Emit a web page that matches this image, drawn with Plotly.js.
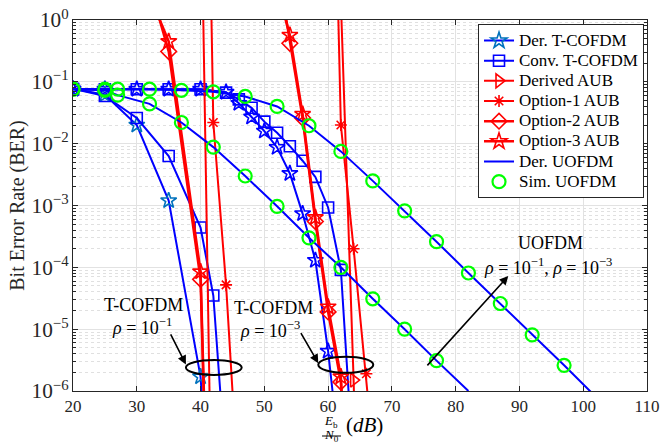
<!DOCTYPE html>
<html><head><meta charset="utf-8">
<script src="https://cdn.plot.ly/plotly-3.0.1.min.js"></script>
<style>body{margin:0;background:#fff}#chart{width:661px;height:447px}</style>
</head><body><div id="chart"></div>
<script>
// ---- data ----
const derT1_x = [20,25,30,35,40,45];
const derT1_y = [0.077,0.062,0.020,0.0012,1.7e-6,1e-14];
const derT3_x = [20,25,30,35,40,44,46,48,50,52,54,56,58,60,62];
const derT3_y = [0.076,0.076,0.076,0.076,0.076,0.068,0.045,0.027,0.016,0.0087,0.0033,0.00074,0.00013,4.4e-6,6e-8];
const convT1_x = [20,25,30,35,40,42,44];
const convT1_y = [0.077,0.059,0.026,0.0063,0.00044,3.5e-5,5e-8];
const convT3_x = [20,25,30,35,40,44,46,48,50,52,54,56,58,60,62,64];
const convT3_y = [0.076,0.076,0.076,0.076,0.076,0.067,0.052,0.038,0.0227,0.015,0.0091,0.0053,0.0029,0.00093,9.1e-5,5e-8];
const aub1_x = [40,42];
const aub1_y = [460,2e-10];
const aub3_x = [62,64,66];
const aub3_y = [2.0,1.5e-6,1e-14];
const opt1_1_x = [40,42,44,46];
const opt1_1_y = [1e10,0.022,5.2e-5,2e-8];
const opt1_3_x = [60,62,64,66,68];
const opt1_3_y = [1e7,0.02,2e-4,1.9e-6,1e-8];
const opt2_1_x = [30,35,40,42];
const opt2_1_y = [20,0.31,6.4e-5,2e-12];
const opt2_3_x = [52,54,56,58,60,62,64];
const opt2_3_y = [8,0.42,0.026,0.00055,1.9e-5,1.4e-6,1e-10];
const opt3_1_x = [30,35,40,42];
const opt3_1_y = [8,0.45,8.5e-5,3e-12];
const opt3_3_x = [52,54,56,58,60,62,64];
const opt3_3_y = [3.2,0.57,0.03,0.00064,2.3e-5,1.7e-6,1e-10];
const uDer1_x = [20,25,27,32,37,42,47,52,57,62,67,72,77,82];
const uDer1_y = [0.076,0.073,0.061,0.044,0.022,0.0088,0.003,0.00097,0.0003,0.0001,3.1e-5,1e-5,3.1e-6,1e-6];
const uDer3_x = [20,25,27,32,37,42,47,52,57,62,67,72,77,82,87,92,97,102];
const uDer3_y = [0.076,0.076,0.076,0.076,0.073,0.069,0.058,0.04,0.0195,0.0075,0.0025,0.00082,0.00026,8.1e-5,2.6e-5,8.1e-6,2.6e-6,8e-7];
const uSim1_x = [20,25,27,32,37,42,47,52,57,62,67,72,77];
const uSim1_y = [0.076,0.073,0.061,0.044,0.022,0.0088,0.003,0.00097,0.0003,0.0001,3.1e-5,1e-5,3.1e-6];
const uSim3_x = [20,25,27,32,37,42,47,52,57,62,67,72,77,82,87,92,97];
const uSim3_y = [0.076,0.076,0.076,0.076,0.073,0.069,0.058,0.04,0.0195,0.0075,0.0025,0.00082,0.00026,8.1e-5,2.6e-5,8.1e-6,2.6e-6];
const names = ['Der. T-COFDM','Conv. T-COFDM','Derived AUB','Option-1 AUB','Option-2 AUB','Option-3 AUB','Der. UOFDM','Sim. UOFDM'];
const xTicks = [20,30,40,50,60,70,80,90,100,110];

const BLUE = '#0000ff', RED = '#ff0000', GREEN = '#00ff00', STEEL = '#0072BD';
const lg = n => '<span style="font-size:17px">' + n + '</span>';

function tr(x, y, i, show, line, marker, mode) {
  return {x: x, y: y, type: 'scatter', mode: mode || 'lines+markers', name: lg(names[i]),
    legendgroup: 'g' + i, showlegend: show, line: line, marker: marker};
}
const mk = (sym, size, col) => ({symbol: sym, size: size, color: col, line: {width: 1.6, color: col}});
const traces = [
  tr(derT1_x, derT1_y, 0, true, {color: BLUE, width: 2}, mk('star-open', 12, STEEL)),
  tr(derT3_x, derT3_y, 0, false, {color: BLUE, width: 2}, mk('star-open', 12, BLUE)),
  tr(convT1_x, convT1_y, 1, true, {color: BLUE, width: 2}, mk('square-open', 11, BLUE)),
  tr(convT3_x, convT3_y, 1, false, {color: BLUE, width: 2}, mk('square-open', 11, BLUE)),
  tr(aub1_x, aub1_y, 2, true, {color: RED, width: 2}, mk('triangle-right-open', 12, RED)),
  tr(aub3_x, aub3_y, 2, false, {color: RED, width: 2}, mk('triangle-right-open', 12, RED)),
  tr(opt1_1_x, opt1_1_y, 3, true, {color: RED, width: 2}, mk('asterisk-open', 10, RED)),
  tr(opt1_3_x, opt1_3_y, 3, false, {color: RED, width: 2}, mk('asterisk-open', 10, RED)),
  tr(opt2_1_x, opt2_1_y, 4, true, {color: RED, width: 2.5}, mk('diamond-open', 12, RED)),
  tr(opt2_3_x, opt2_3_y, 4, false, {color: RED, width: 2.5}, mk('diamond-open', 12, RED)),
  tr(opt3_1_x, opt3_1_y, 5, true, {color: RED, width: 2.5}, mk('star-open', 12, RED)),
  tr(opt3_3_x, opt3_3_y, 5, false, {color: RED, width: 2.5}, mk('star-open', 12, RED)),
  tr(uDer1_x, uDer1_y, 6, true, {color: BLUE, width: 2}, {}, 'lines'),
  tr(uDer3_x, uDer3_y, 6, false, {color: BLUE, width: 2}, {}, 'lines'),
  tr(uSim1_x, uSim1_y, 7, true, {}, {symbol: 'circle-open', size: 13, color: GREEN, line: {width: 2.2, color: GREEN}}, 'markers'),
  tr(uSim3_x, uSim3_y, 7, false, {}, {symbol: 'circle-open', size: 13, color: GREEN, line: {width: 2.2, color: GREEN}}, 'markers')
];

const serif = 'Liberation Serif, Times New Roman, serif';
const ann = (x, y, t, size) => ({x: x, y: y, xref: 'x', yref: 'y', text: t, showarrow: false,
  font: {family: serif, size: size || 18, color: '#000'}});
const arr = (x, y, ax, ay) => ({x: x, y: y, ax: ax, ay: ay, xref: 'x', yref: 'y', axref: 'x', ayref: 'y',
  text: '', showarrow: true, arrowhead: 2, arrowsize: 1.1, arrowwidth: 1.6, arrowcolor: '#000'});
const pann = (x, y, t, size) => ({x: x, y: y, xref: 'paper', yref: 'paper', text: t, showarrow: false,
  borderpad: 0, font: {family: serif, size: size, color: '#000'}});

const layout = {
  width: 661, height: 447,
  margin: {l: 73, r: 14, t: 20, b: 56},
  paper_bgcolor: '#fff', plot_bgcolor: '#fff',
  font: {family: serif, color: '#262626'},
  showlegend: true,
  legend: {x: 0.9948, y: 0.988, xanchor: 'right', yanchor: 'top', bgcolor: '#fff',
    bordercolor: '#262626', borderwidth: 1, font: {family: serif, size: 13.2, color: '#000'},
    tracegroupgap: 0, itemwidth: 30},
  xaxis: {range: [20, 110], tickvals: xTicks, ticks: 'inside', ticklen: 5, tickcolor: '#262626',
    mirror: 'allticks', showline: true, linecolor: '#262626', linewidth: 1,
    showgrid: true, gridcolor: '#e2e2e2', zeroline: false,
    tickfont: {family: serif, size: 17, color: '#262626'}},
  yaxis: {type: 'log', range: [-6, 0], dtick: 1, exponentformat: 'power',
    labelalias: {'1': '10<sup>0</sup>'},
    ticks: 'inside', ticklen: 5, tickcolor: '#262626', mirror: 'allticks', showline: true,
    linecolor: '#262626', linewidth: 1, showgrid: true, gridcolor: '#e2e2e2', zeroline: false,
    tickfont: {family: serif, size: 17, color: '#262626'},
    minor: {dtick: 'D1', ticks: 'inside', ticklen: 3, tickcolor: '#262626', showgrid: true,
      gridcolor: '#e0e0e0', griddash: 'dot'},
    title: {text: 'Bit Error Rate (BER)', font: {family: serif, size: 20, color: '#262626'}, standoff: 1}},
  shapes: [
    {type: 'circle', xref: 'x', yref: 'y', x0: 37.7, x1: 46.45, y0: 1.82e-6, y1: 3.16e-6, line: {color: '#000', width: 2}},
    {type: 'circle', xref: 'x', yref: 'y', x0: 58.46, x1: 67.08, y0: 1.97e-6, y1: 3.59e-6, line: {color: '#000', width: 2}},
    {type: 'line', xref: 'paper', yref: 'paper', x0: 0.4338, x1: 0.4669, y0: -0.1213, y1: -0.1213, line: {color: '#000', width: 1}}
  ],
  annotations: [
    ann(31.0, -4.61, 'T-COFDM'),
    ann(30.8, -4.96, '<i>ρ</i> = 10<sup>−1</sup>'),
    ann(51.4, -4.65, 'T-COFDM'),
    ann(50.9, -5.01, '<i>ρ</i> = 10<sup>−3</sup>'),
    ann(94.8, -3.61, 'UOFDM'),
    ann(94.5, -3.98, '<i>ρ</i> = 10<sup>−1</sup>, <i>ρ</i> = 10<sup>−3</sup>'),
    arr(37.7, -5.57, 35.2, -5.06),
    arr(58.46, -5.55, 55.6, -5.04),
    arr(88.25, -4.14, 75.35, -5.61),
    pann(0.4495, -0.1078, '<i>E</i><sub>b</sub>', 13),
    pann(0.4495, -0.1445, '<i>N</i><sub>0</sub>', 13),
    pann(0.5087, -0.1256, '(<i>dB</i>)', 21)
  ]
};
Plotly.newPlot('chart', traces, layout, {staticPlot: true, displayModeBar: false});
</script></body></html>
